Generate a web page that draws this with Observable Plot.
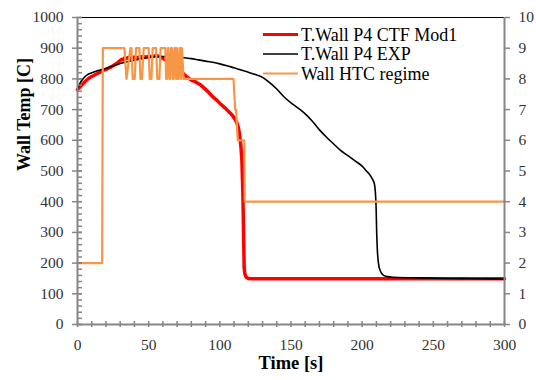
<!DOCTYPE html>
<html><head><meta charset="utf-8">
<script src="https://cdn.jsdelivr.net/npm/d3@7"></script>
<script src="https://cdn.jsdelivr.net/npm/@observablehq/plot@0.6"></script>
<style>body{margin:0;background:#fff}</style>
</head><body><div id="chart"></div>
<script>
// T.Wall P4 CTF Mod1 (red)
const ctfTime = [0,2,5,8,10,13,16,18,21,24,26,28,30,31,32,33,34,36,38,40,42,45,48,50,52,55,57,59,61,63,65,67,69,72,75,77,80,83,86,89,92,95,98,101,104,107,109,111,112,113,114,114.8,115.5,116.2,116.6,117.1,117.6,118.3,119,120,122.5,150,200,250,300];
const ctfTemp = [765,775,790,802,808,815,822,828,833,840,846,852,860,864,862,868,866,870,866,871,869,872,871,874,872,876,874,870,864,858,850,846,838,828,814,806,796,790,782,770,757,742,730,716,704,690,680,666,656,642,614,580,534,425,316,185,165,156,152,150,149,149,149,149,149];
// T.Wall P4 EXP (black)
const expTime = [0,1,2,3,5,7,10,13,16,20,25,30,35,40,45,50,55,60,65,70,75,80,85,90,95,100,105,110,115,120,125,130,135,140,145,150,155,160,165,170,175,180,185,190,195,200,203,205,207,208.5,209.3,209.8,210.2,210.7,211.3,212,213.5,215,219,225,240,260,280,300];
const expTemp = [766,778,788,795,806,814,820,825,829,834,842,850,856,861,866,870,872,873,873,871,869,866,862,858,854,849,843,836,829,822,814,805,788,767,742,722,705,686,662,634,610,588,566,550,533,516,500,490,475,460,430,380,300,240,205,185,168,160,155,153,152,150,149,148];
// Wall HTC regime (orange, secondary axis)
const htcTime = [0,17.3,17.8,33,34.4,37.2,37.9,38.8,40.2,41.1,43.5,44.2,45.3,46.5,50,50.7,51.9,52.8,55.2,56.1,57.5,58.4,61.7,62.3,62.9,63.5,64,64.6,65.2,65.8,66.4,67,67.6,68.2,68.7,69.3,69.9,70.5,71.1,71.7,72.2,72.8,73.4,74.5,109.6,110.8,111.4,112.6,117.2,117.5,300];
const htcRegime = [2,2,9,9,8,9,9,8,8,9,9,8,8,9,9,8,8,9,9,8,8,9,9,8,8,9,9,8,8,9,9,8,8,9,9,8,9,8,8,9,9,8,9,8,8,7,7,6,6,4,4];

const tempTicks = d3.range(0, 1001, 100);
const tempMinorTicks = d3.range(0, 1001, 20);
const timeTicks = [0, 50, 100, 150, 200, 250, 300];
const timeMinorTicks = d3.range(0, 301, 10);
const regimeTicks = d3.range(0, 11, 1);
const seriesNames = ["T.Wall P4 CTF Mod1", "T.Wall P4 EXP", "Wall HTC regime"];
const seriesColors = ["#ff0000", "#000000", "#f79646"];
const seriesWidths = [3.5, 1.6, 2.2];
const regimeRatio = 100; // secondary axis: 10 regime units span 1000 C

const ctf = ctfTime.map((t, i) => ({t, v: ctfTemp[i]}));
const exp = expTime.map((t, i) => ({t, v: expTemp[i]}));
const htc = htcTime.map((t, i) => ({t, v: htcRegime[i] * regimeRatio}));

const axisGray = "#868686";
const labelColor = "#333";
const font = "Liberation Serif";

const plot = Plot.plot({
  width: 536, height: 380,
  marginLeft: 77, marginRight: 32, marginTop: 17, marginBottom: 56,
  style: {fontFamily: font, fontSize: "15.5px", background: "#fff", color: "#000"},
  x: {domain: [0, 300]},
  y: {domain: [0, 1000]},
  marks: [
    Plot.ruleY([1000], {stroke: "#000", strokeWidth: 1}),
    Plot.line(ctf, {x: "t", y: "v", stroke: seriesColors[0], strokeWidth: seriesWidths[0], strokeLinejoin: "round"}),
    Plot.line(exp, {x: "t", y: "v", stroke: seriesColors[1], strokeWidth: seriesWidths[1], curve: "monotone-x"}),
    Plot.line(htc, {x: "t", y: "v", stroke: seriesColors[2], strokeWidth: seriesWidths[2]}),
    Plot.ruleX([0], {stroke: axisGray, strokeWidth: 2}),
    Plot.ruleX([300], {stroke: axisGray, strokeWidth: 2}),
    Plot.ruleY([0], {stroke: axisGray, strokeWidth: 2}),
    // left axis
    Plot.axisY({anchor: "left", ticks: tempMinorTicks, tickSize: 5, dx: 5, fill: "none", stroke: axisGray, strokeWidth: 1.5, label: null}),
    Plot.axisY({anchor: "left", ticks: tempTicks, tickSize: 10, dx: 5, fill: "none", stroke: axisGray, strokeWidth: 1.5, label: null}),
    Plot.axisY({anchor: "left", ticks: tempTicks, tickSize: 0, tickPadding: 14, tickFormat: d => String(d), fill: labelColor, fontFamily: font, fontSize: 15.5, label: null}),
    // bottom axis
    Plot.axisX({anchor: "bottom", ticks: timeMinorTicks, tickSize: 6, dy: -3, fill: "none", stroke: axisGray, strokeWidth: 1.5, label: null}),
    Plot.axisX({anchor: "bottom", ticks: timeTicks, tickSize: 0, tickPadding: 14, tickFormat: d => String(d), fill: labelColor, fontFamily: font, fontSize: 15.5, label: null}),
    // right (secondary) axis
    Plot.axisY({anchor: "right", ticks: regimeTicks.map(r => r * regimeRatio), tickSize: 5, tickPadding: 9, stroke: axisGray, strokeWidth: 1.5, fill: labelColor, fontFamily: font, fontSize: 15.5, tickFormat: d => String(d / regimeRatio), label: null}),
    // axis titles
    Plot.text(["Wall Temp [C]"], {text: d => d, frameAnchor: "left", dx: -53, rotate: -90, fontWeight: "bold", fontSize: 18, fontFamily: font}),
    Plot.text(["Time [s]"], {text: d => d, frameAnchor: "bottom", dy: 44, fontWeight: "bold", fontSize: 18.5, fontFamily: font})
  ]
});

document.getElementById("chart").appendChild(plot);

// legend inside the plot area
const svg = d3.select(plot);
const lg = svg.append("g").attr("font-family", font).attr("font-size", 18).attr("fill", "#000").attr("text-anchor", "start");
seriesNames.forEach((name, i) => {
  const y = 34.5 + i * 19.5;
  lg.append("line").attr("x1", 263).attr("x2", 298).attr("y1", y).attr("y2", y)
    .attr("stroke", seriesColors[i]).attr("stroke-width", Math.min(seriesWidths[i], 3));
  lg.append("text").attr("x", 301).attr("y", y).attr("dy", "0.35em").attr("text-anchor", "start").text(name);
});
</script>
</body></html>
